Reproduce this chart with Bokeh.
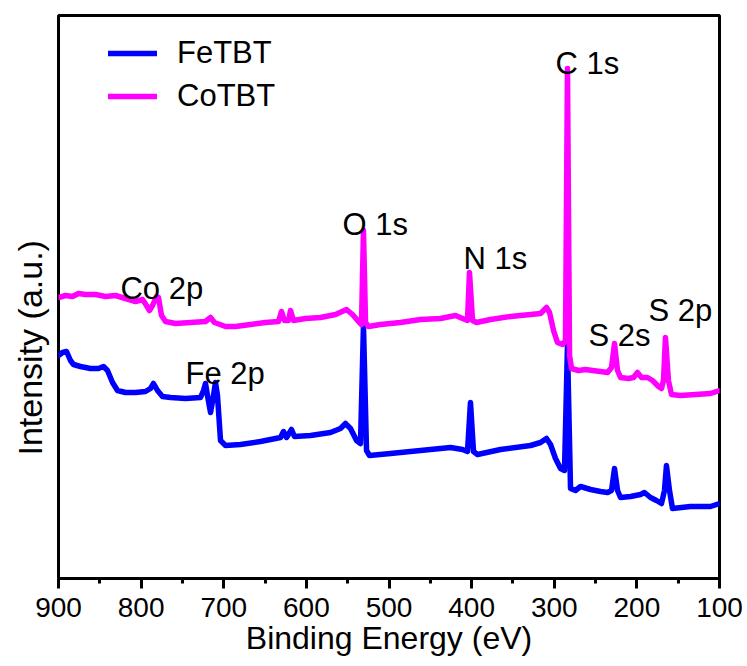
import math
from bokeh.plotting import figure
from bokeh.models import Range1d, FixedTicker, Legend, LegendItem, Title, ColumnDataSource
from bokeh.core.properties import value
from bokeh.embed import file_html
from bokeh.resources import INLINE

# ---------------- data ----------------
co_energy = [900, 891.5, 883.1, 875.8, 867.3, 855.2, 843.1, 831.0, 818.9, 806.8,
             798.3, 793.5, 789.9, 786.2, 781.4, 779.0, 775.3, 770.5, 758.4, 740.2,
             722.1, 716.0, 711.2, 697.9, 685.8, 667.6, 649.5, 633.7, 630.1, 626.5,
             621.6, 619.2, 615.6, 601.1, 582.9, 564.7, 551.4, 544.2, 536.9, 533.3,
             530.9, 528.4, 524.8, 510.4, 486.1, 461.9, 437.7, 419.5, 411.0, 405.0,
             402.6, 398.9, 394.1, 377.1, 352.9, 328.7, 316.6, 309.4, 305.7, 300.9,
             296.1, 290.0, 286.4, 284.0, 281.5, 279.1, 270.6, 262.2, 253.7, 244.0,
             235.5, 230.7, 227.1, 223.4, 219.8, 210.1, 204.1, 199.3, 194.4, 187.2,
             181.1, 173.8, 170.2, 167.8, 165.4, 161.8, 158.1, 147.2, 129.0, 110.9,
             100.0]
co_intensity = [281, 283, 282, 285, 284, 284, 282, 283, 280, 277,
                279, 273, 268, 273, 282, 281, 263, 257, 255, 256,
                257, 261, 256, 252, 252, 254, 256, 257, 267, 258,
                258, 268, 258, 260, 261, 264, 269, 264, 257, 254,
                348, 256, 252, 254, 256, 259, 260, 263, 260, 258,
                306, 258, 256, 259, 262, 264, 265, 271, 266, 248,
                236, 234, 238, 510, 223, 210, 208, 209, 208, 207,
                206, 211, 235, 208, 201, 200, 201, 206, 201, 201,
                198, 192, 190, 198, 241, 198, 184, 183, 184, 185,
                188]

fe_energy = [900, 895.2, 890.3, 885.5, 881.8, 873.4, 861.3, 851.6, 845.5, 840.7,
             834.6, 828.6, 818.9, 806.8, 794.7, 788.7, 785.0, 780.2, 774.1, 764.4,
             746.3, 728.1, 724.5, 722.1, 719.7, 716.0, 712.4, 710.0, 707.6, 703.9,
             697.9, 679.7, 655.5, 631.3, 627.7, 624.0, 618.0, 614.4, 595.0, 570.8,
             558.7, 552.7, 546.6, 539.3, 534.5, 530.9, 527.2, 523.6, 498.2, 461.9,
             425.6, 411.0, 405.0, 401.4, 397.7, 392.9, 365.0, 328.7, 316.6, 309.4,
             304.5, 298.5, 292.4, 287.6, 284.0, 280.3, 274.3, 268.2, 256.1, 244.0,
             235.5, 230.7, 227.1, 223.4, 219.8, 207.7, 195.6, 190.8, 183.5, 176.3,
             170.2, 166.6, 164.2, 160.5, 156.9, 135.1, 110.9, 100.0]
fe_intensity = [223, 226, 227, 218, 214, 212, 210, 210, 212, 208,
                196, 188, 186, 186, 187, 190, 195, 188, 182, 181,
                180, 181, 188, 195, 183, 166, 183, 196, 183, 138,
                133, 134, 137, 141, 147, 141, 149, 142, 143, 146,
                150, 155, 150, 138, 135, 253, 128, 123, 125, 128,
                131, 129, 127, 176, 127, 124, 129, 133, 136, 140,
                134, 120, 110, 108, 233, 90, 88, 92, 89, 87,
                86, 88, 110, 88, 81, 82, 84, 86, 81, 78,
                75, 88, 113, 88, 70, 72, 72, 75]

series_names = ["FeTBT", "CoTBT"]
peak_labels = ["C 1s", "O 1s", "N 1s", "Co 2p", "Fe 2p", "S 2s", "S 2p"]
peak_label_x = [298.5, 556.3, 409.8, 825.0, 746.3, 258.5, 185.9]
peak_label_y = [515, 354, 320, 290, 205, 243, 268]
x_ticks = [900, 800, 700, 600, 500, 400, 300, 200, 100]
x_minor = [850, 750, 650, 550, 450, 350, 250, 150]

FONT = "Liberation Sans"

p = figure(width=747, height=666, output_backend="svg", toolbar_location=None,
           x_range=Range1d(900, 100), y_range=Range1d(0, 563),
           min_border_left=58, min_border_right=28, min_border_top=15, min_border_bottom=88)
p.background_fill_color = "white"
p.border_fill_color = "white"
p.grid.visible = False
p.outline_line_color = "black"
p.outline_line_width = 3

fe = p.line(fe_energy, fe_intensity, line_color="#0000FF", line_width=5.5,
            line_join="round", line_cap="round")
co = p.line(co_energy, co_intensity, line_color="#FF00FF", line_width=5.5,
            line_join="round", line_cap="round")

# x axis
xa = p.xaxis[0]
xa.ticker = FixedTicker(ticks=x_ticks, minor_ticks=x_minor)
xa.axis_label = "Binding Energy (eV)"
xa.axis_label_text_font = FONT
xa.axis_label_text_font_size = "32px"
xa.axis_label_text_font_style = "normal"
xa.axis_label_text_color = "black"
xa.axis_label_standoff = 0
xa.major_label_text_font = FONT
xa.major_label_text_font_size = "28px"
xa.major_label_text_color = "black"
xa.major_label_standoff = 9
xa.axis_line_width = 3
xa.axis_line_color = "black"
xa.major_tick_line_width = 3
xa.major_tick_line_color = "black"
xa.major_tick_in = 0
xa.major_tick_out = 10
xa.minor_tick_line_width = 3
xa.minor_tick_line_color = "black"
xa.minor_tick_in = 0
xa.minor_tick_out = 5

p.yaxis.visible = False

# y-axis label as a left-side title (shifted downwards as in the reference)
ytitle = Title(text="Intensity (a.u.)", align="left", vertical_align="top", offset=123,
               text_font=FONT, text_font_size="34px", text_font_style="normal",
               text_color="black", standoff=16)
p.add_layout(ytitle, "left")

# peak annotations
src = ColumnDataSource(dict(x=peak_label_x, y=peak_label_y, t=peak_labels))
p.text(x="x", y="y", text="t", source=src, text_font=value(FONT), text_font_size="31px",
       text_color="black", text_align="left", text_baseline="alphabetic")

legend = Legend(items=[LegendItem(label=series_names[0], renderers=[fe]),
                       LegendItem(label=series_names[1], renderers=[co])],
                location=(50, 464), orientation="vertical",
                label_text_font=FONT, label_text_font_size="31px", label_text_color="black",
                glyph_width=49, glyph_height=36, label_height=36, label_standoff=20,
                spacing=7, padding=0, margin=0, border_line_color=None,
                background_fill_alpha=0)
p.add_layout(legend)

open("out.html", "w").write(file_html(p, INLINE))
